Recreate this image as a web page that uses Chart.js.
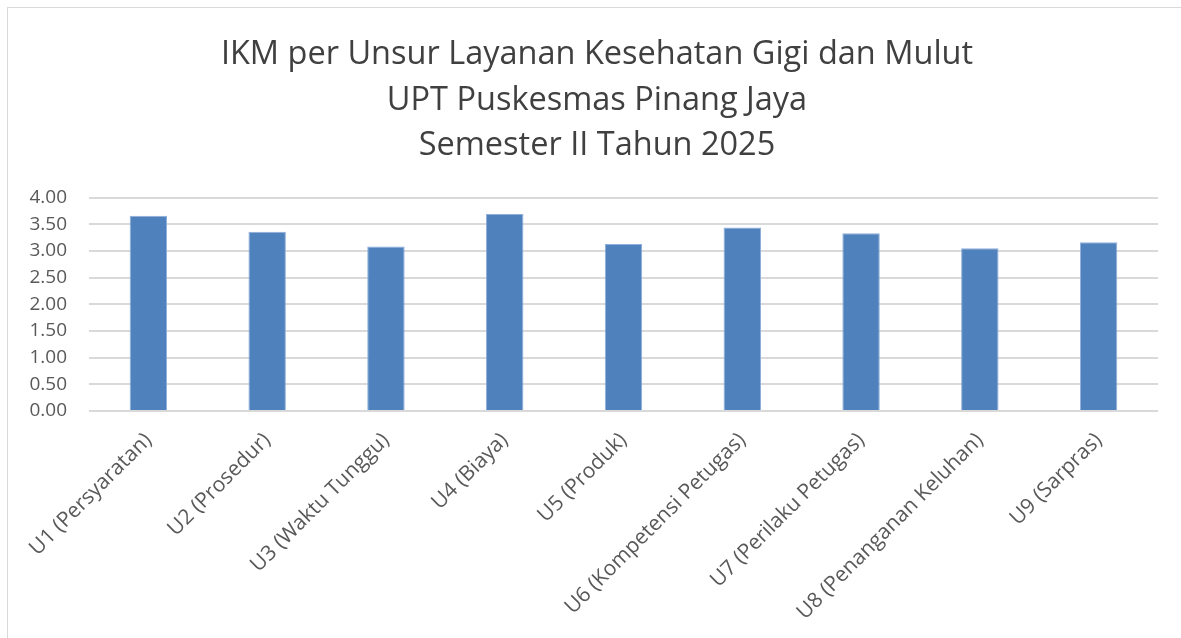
<!DOCTYPE html>
<html>
<head>
<meta charset="utf-8">
<script src="https://cdn.jsdelivr.net/npm/chart.js@4.4.1/dist/chart.umd.min.js"></script>
<style>
  html, body { margin: 0; padding: 0; background: #fff; overflow: hidden; }
  #frame { position: absolute; left: 7px; top: 7px; width: 1200px; height: 700px; border: 1px solid #d9d9d9; box-sizing: border-box; }
  #wrap { position: absolute; left: 0; top: 0; width: 1181px; height: 638px; }
</style>
</head>
<body>
<div id="frame"></div>
<div id="wrap"><canvas id="c" width="1181" height="638"></canvas></div>
<script>
const titleLines = ["IKM per Unsur Layanan Kesehatan Gigi dan Mulut", "UPT Puskesmas Pinang Jaya", "Semester II Tahun 2025"];
const categories = ["U1 (Persyaratan)", "U2 (Prosedur)", "U3 (Waktu Tunggu)", "U4 (Biaya)", "U5 (Produk)", "U6 (Kompetensi Petugas)", "U7 (Perilaku Petugas)", "U8 (Penanganan Keluhan)", "U9 (Sarpras)"];
const ikmValues = [3.66, 3.36, 3.08, 3.69, 3.13, 3.44, 3.33, 3.05, 3.16];
const yTickMin = 0, yTickMax = 4, yTickStep = 0.5;

const FONT = "'Open Sans', 'DejaVu Sans', sans-serif";

new Chart(document.getElementById('c'), {
  type: 'bar',
  data: {
    labels: categories,
    datasets: [{
      data: ikmValues,
      backgroundColor: '#4f81bd',
      borderColor: '#8eaedb',
      borderWidth: {left: 1, right: 1, top: 1, bottom: 0},
      categoryPercentage: 1.0,
      barPercentage: 0.315
    }]
  },
  options: {
    responsive: false,
    animation: false,
    layout: { padding: { left: 13, right: 0, top: 0, bottom: 0 } },
    plugins: {
      legend: { display: false },
      tooltip: { enabled: false },
      title: {
        display: true,
        text: titleLines,
        color: '#404040',
        font: { family: FONT, size: 32.5, weight: 'normal', lineHeight: 1.4 },
        padding: { top: 32, bottom: 29 }
      }
    },
    scales: {
      x: {
        grid: { display: false },
        border: { display: false },
        ticks: {
          color: '#595959',
          font: { family: FONT, size: 21 },
          minRotation: 45, maxRotation: 45,
          autoSkip: false,
          padding: 9
        },
        afterFit: (s) => { s.height = 227; }
      },
      y: {
        min: yTickMin, max: yTickMax,
        grid: { color: '#d9d9d9', lineWidth: 2, drawTicks: false },
        border: { display: false },
        ticks: {
          stepSize: yTickStep,
          color: '#595959',
          font: { family: FONT, size: 19 },
          padding: 22,
          callback: (v) => Number(v).toFixed(2)
        },
        afterFit: (s) => { s.width = 76; }
      },
      y2: {
        position: 'right',
        display: true,
        grid: { display: false },
        border: { display: false },
        ticks: { display: false },
        afterFit: (s) => { s.width = 23; }
      }
    }
  }
});
</script>
</body>
</html>
